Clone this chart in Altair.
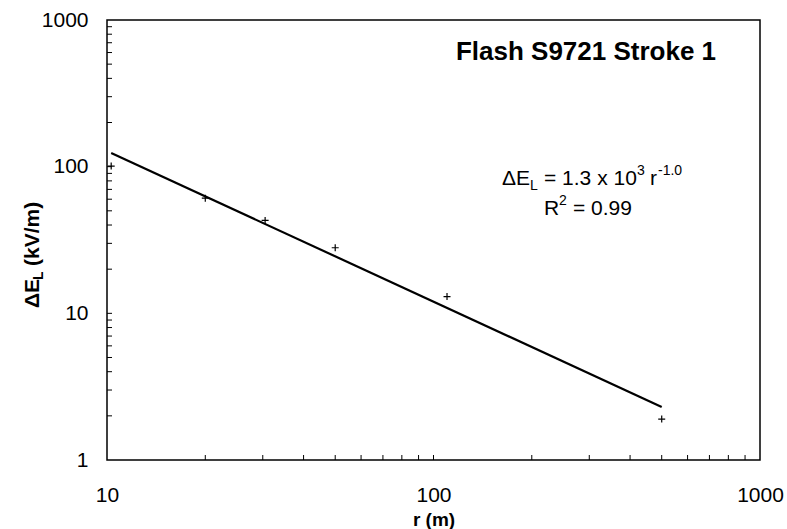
import altair as alt
import pandas as pd

# --- data ---
r_points = [10.3, 20, 30.5, 50, 110, 500]
e_points = [101, 61, 43, 28, 13, 1.9]
fit_r = [10.3, 500]
fit_e = [124, 2.3]

x_labels = [10, 100, 1000]
y_labels = [1, 10, 100, 1000]
x_minor = [20, 30, 40, 50, 60, 70, 80, 90, 100, 200, 300, 400, 500, 600, 700, 800, 900]
y_minor = [2, 3, 4, 5, 6, 7, 8, 9, 10, 20, 30, 40, 50, 60, 70, 80, 90, 100,
           200, 300, 400, 500, 600, 700, 800, 900]

FONT = "Liberation Sans"
W, H = 653, 440

pts = pd.DataFrame({"r": r_points, "E": e_points})
fit = pd.DataFrame({"r": fit_r, "E": fit_e})
xt = pd.DataFrame({"r": x_minor})
yt = pd.DataFrame({"E": y_minor})

xscale = alt.Scale(type="log", domain=[10, 1000], nice=False)
yscale = alt.Scale(type="log", domain=[1, 1000], nice=False)

xaxis = alt.Axis(values=x_labels, format="d", ticks=False, domain=False, grid=False,
                 labelFont=FONT, labelFontSize=21, labelColor="black", labelPadding=24,
                 title="r (m)", titleFont=FONT, titleFontSize=19, titleFontWeight="bold",
                 titleColor="black", titlePadding=5, labelFlush=False)
yaxis = alt.Axis(values=y_labels, format="d", ticks=False, domain=False, grid=False,
                 labelFont=FONT, labelFontSize=21, labelColor="black", labelPadding=19,
                 title=None)

line = alt.Chart(fit).mark_line(color="black", strokeWidth=2.2).encode(
    x=alt.X("r:Q", scale=xscale, axis=xaxis),
    y=alt.Y("E:Q", scale=yscale, axis=yaxis),
)

points = alt.Chart(pts).mark_point(
    shape="M -1 0 L 1 0 M 0 -1 L 0 1", size=49, filled=False,
    color="black", strokeWidth=1.2, opacity=1,
).encode(x=alt.X("r:Q", scale=xscale), y=alt.Y("E:Q", scale=yscale))

xticks = alt.Chart(xt).mark_rule(color="black", strokeWidth=1).encode(
    x=alt.X("r:Q", scale=xscale), y=alt.value(H), y2=alt.value(H - 5))
yticks = alt.Chart(yt).mark_rule(color="black", strokeWidth=1).encode(
    y=alt.Y("E:Q", scale=yscale), x=alt.value(0), x2=alt.value(5))

one = alt.Data(values=[{"a": 1}])


def txt(s, x, y, size, weight="normal", align="left", angle=0, baseline="alphabetic"):
    kw = dict(text=s, font=FONT, fontSize=size, fontWeight=weight, align=align,
              baseline=baseline, color="black")
    if angle:
        kw["angle"] = angle
    return alt.Chart(one).mark_text(**kw).encode(x=alt.value(x), y=alt.value(y))


OX, OY = 107, 20
ann = [
    txt("Flash S9721 Stroke 1", 586 - OX, 60 - OY, 26, weight="bold", align="center"),
    # equation
    txt("\u0394E", 502 - OX, 185 - OY, 21),
    txt("L", 530 - OX, 190 - OY, 14),
    txt("= 1.3 x 10", 544 - OX, 185 - OY, 21),
    txt("3", 637 - OX, 175 - OY, 14),
    txt("r", 650 - OX, 185 - OY, 21),
    txt("-1.0", 658 - OX, 175 - OY, 14),
    txt("R", 544 - OX, 215 - OY, 21),
    txt("2", 559 - OX, 205 - OY, 14),
    txt("= 0.99", 573 - OX, 215 - OY, 21),
    # y axis title (rotated)
    txt("\u0394E", 39 - OX, 308 - OY, 21, weight="bold", angle=270),
    txt("L", 43 - OX, 280 - OY, 14, weight="bold", angle=270),
    txt("(kV/m)", 39 - OX, 266 - OY, 21, weight="bold", angle=270),
]

chart = alt.layer(line, points, xticks, yticks, *ann).properties(
    width=W, height=H,
    autosize=alt.AutoSizeParams(type="none"),
    padding={"left": OX, "top": OY, "right": 787 - OX - W, "bottom": 529 - OY - H},
    background="white",
).configure_view(stroke="black", strokeWidth=1.5)

chart.save("out.html", embed_options={"renderer": "svg", "actions": False})
